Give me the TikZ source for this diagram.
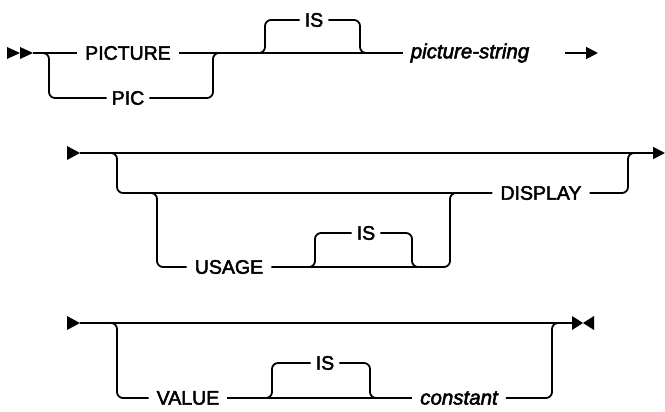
\documentclass[tikz,border=0pt]{standalone}
\usepackage{fontspec}
\setmainfont{Liberation Sans}
\newfontfamily\railfont{Liberation Sans}[FakeBold=2.5]
\usepackage{tikz}
\usetikzlibrary{arrows.meta, calc}

\begin{document}
\begin{tikzpicture}[x=1pt, y=-1pt,
  rail/.style={line width=1.8pt, rounded corners=6pt},
  kw/.style={font=\railfont\fontsize{19.5}{22}\selectfont, inner xsep=8pt, inner ysep=0pt},
  var/.style={font=\railfont\fontsize{20.5}{24}\selectfont\itshape, inner xsep=8pt, inner ysep=0pt},
  tip/.style={-{Triangle[length=12pt,width=12pt]}}]
\useasboundingbox (0,0) rectangle (665,412);

% Row 1: PICTURE / PIC [IS] picture-string
\fill (7,47) -- (20,53) -- (7,59) -- cycle;
\fill (20,47) -- (33,53) -- (20,59) -- cycle;
\coordinate (s1) at (33,53);
\node[kw] (picture) at (128,53) {PICTURE};
\node[kw, inner xsep=5pt] (pic) at (128,98) {PIC};
\node[kw, inner xsep=5pt] (is1) at (314,20) {IS};
\node[var] (pstring) at (470,53) {picture-string};
\coordinate (a1) at (565,53);
\coordinate (a2) at (598,53);

\draw[rail] (s1) -- (picture.west);
\draw[rail] (picture.east) -- (pstring.west);
\draw[rail] (s1) -- (49,53) -- (49,98) -- (pic.west);
\draw[rail] (pic.east) -- (213,98) -- (213,53) -- (221,53);
\draw[rail] (257,53) -- (265,53) -- (265,20) -- (is1.west);
\draw[rail] (is1.east) -- (360,20) -- (360,53) -- (368,53);
\draw[line width=1.8pt, tip] (a1) -- (a2);

% Row 2: [USAGE [IS]] DISPLAY
\fill (67,146) -- (80,153) -- (67,160) -- cycle;
\coordinate (s2) at (80,153);
\coordinate (e2) at (665,153);
\node[kw] (usage) at (229,267) {USAGE};
\node[kw, inner xsep=5pt] (is2) at (366,233) {IS};
\node[kw] (display) at (541,193) {DISPLAY};

\draw[rail, tip] (s2) -- (e2);
\draw[rail] (109,153) -- (117,153) -- (117,193) -- (display.west);
\draw[rail] (149,193) -- (157,193) -- (157,267) -- (usage.west);
\draw[rail] (usage.east) -- (450,267) -- (450,193) -- (458,193);
\draw[rail] (307,267) -- (315,267) -- (315,233) -- (is2.west);
\draw[rail] (is2.east) -- (412,233) -- (412,267) -- (420,267);
\draw[rail] (display.east) -- (628,193) -- (628,153) -- (636,153);

% Row 3: [VALUE [IS] constant]
\fill (67,316) -- (80,323) -- (67,330) -- cycle;
\coordinate (s3) at (80,323);
\coordinate (e3) at (572,323);
\node[kw] (value) at (188,398) {VALUE};
\node[kw, inner xsep=5pt] (is3) at (325,363) {IS};
\node[var] (constant) at (459,398) {constant};

\draw[rail] (s3) -- (e3);
\fill (572,316) -- (583,323) -- (572,330) -- cycle;
\fill (594,316) -- (583,323) -- (594,330) -- cycle;
\draw[rail] (109,323) -- (117,323) -- (117,398) -- (value.west);
\draw[rail] (value.east) -- (constant.west);
\draw[rail] (265,398) -- (272,398) -- (272,363) -- (is3.west);
\draw[rail] (is3.east) -- (370,363) -- (370,398) -- (378,398);
\draw[rail] (constant.east) -- (552,398) -- (552,323) -- (560,323);

\end{tikzpicture}
\end{document}
